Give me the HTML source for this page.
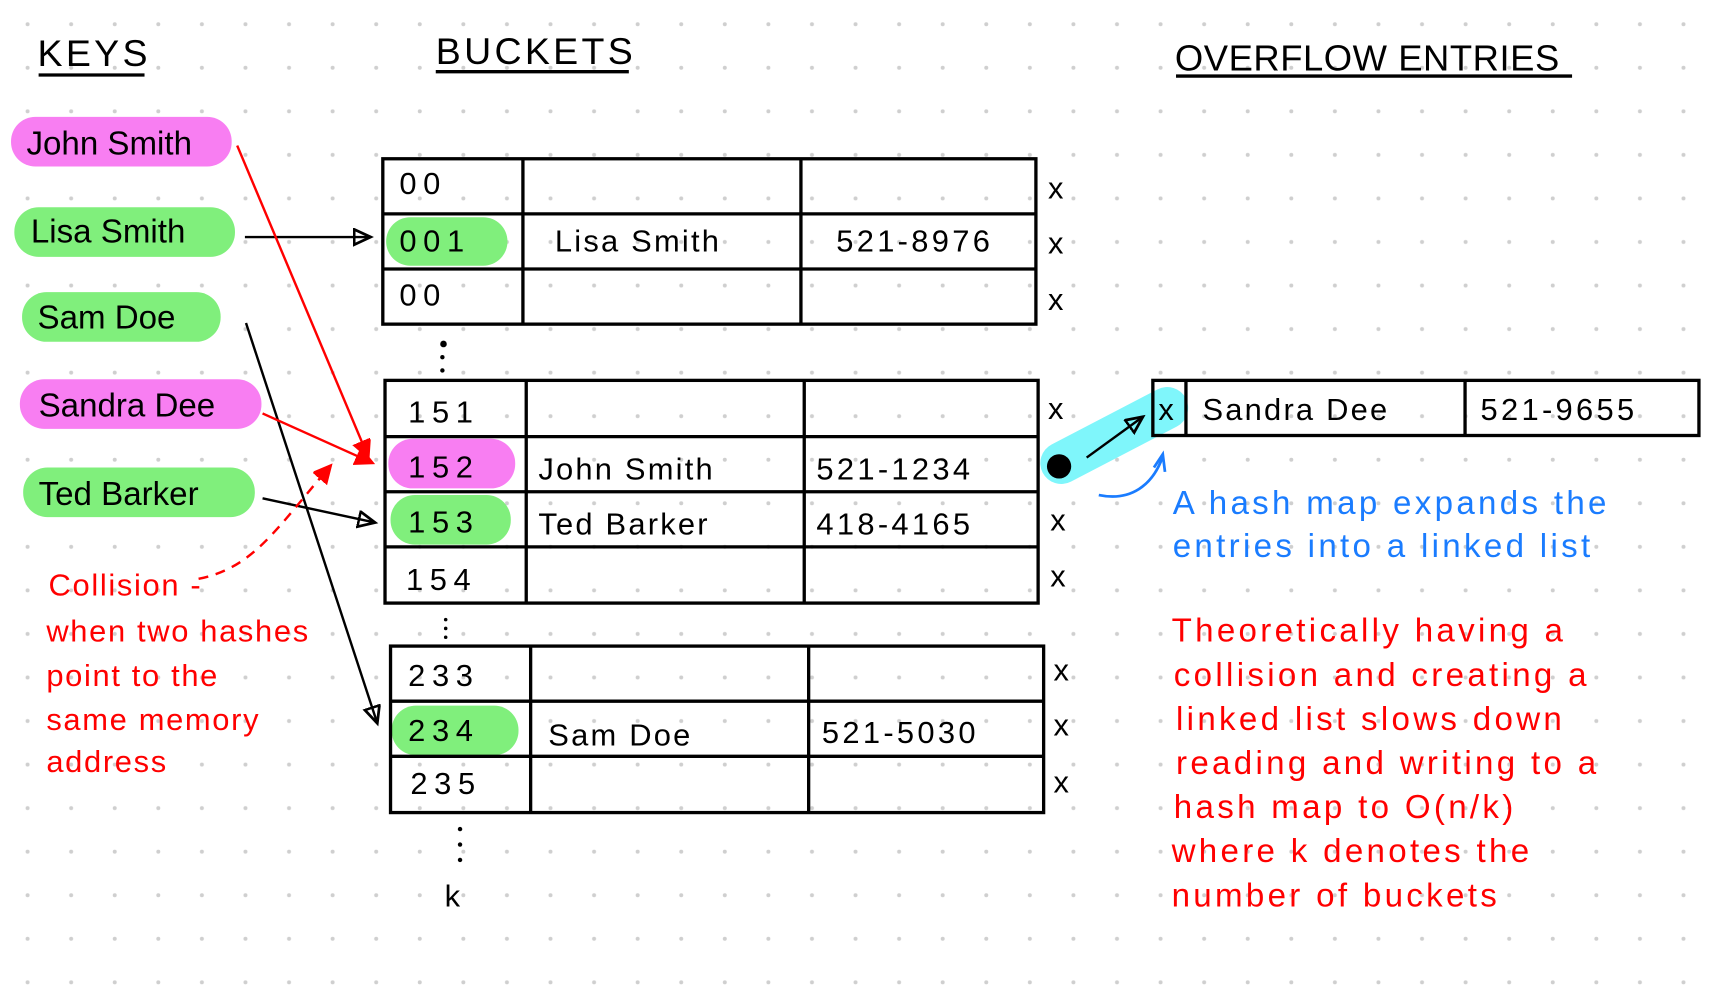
<!DOCTYPE html>
<html><head><meta charset="utf-8"><style>
html,body{margin:0;padding:0;background:#fff;width:1721px;height:1000px;overflow:hidden}
svg{display:block}
text{font-family:"Liberation Sans",sans-serif}
</style></head><body>
<svg width="1721" height="1000" viewBox="0 0 1560 907" preserveAspectRatio="none" xmlns="http://www.w3.org/2000/svg">
<defs>
<pattern id="dots" x="5" y="2" width="39.5" height="39.5" patternUnits="userSpaceOnUse"><circle cx="20" cy="20" r="1.8" fill="#cfcfcf"/></pattern>
<marker id="ab" markerWidth="20" markerHeight="20" refX="16" refY="8" orient="auto" markerUnits="userSpaceOnUse"><path d="M1,1 L16,8 L1,15 Z" fill="none" stroke="#000" stroke-width="2.5"/></marker>
<marker id="ar" markerWidth="20" markerHeight="20" refX="16" refY="8" orient="auto" markerUnits="userSpaceOnUse"><path d="M0,0 L16,8 L0,16 Z" fill="#f00" stroke="#f00" stroke-width="2"/></marker>
</defs>
<rect width="1560" height="907" fill="url(#dots)"/>
<g font-size="34" fill="#000" letter-spacing="3">
<text x="34" y="60">KEYS</text><text x="395" y="58">BUCKETS</text><text x="1065" y="64" letter-spacing="0.5" font-size="33">OVERFLOW  ENTRIES</text></g>
<g stroke="#000" stroke-width="3"><line x1="35" y1="68" x2="131" y2="68"/><line x1="395" y1="65" x2="570" y2="65"/><line x1="1066" y1="69" x2="1425" y2="69"/></g>
<g font-size="30">
<rect x="10" y="106" width="200" height="45" rx="22" fill="#f87ef2"/><text x="24" y="140">John Smith</text>
<rect x="13" y="188" width="200" height="45" rx="22" fill="#80ef7c"/><text x="28" y="220">Lisa Smith</text>
<rect x="20" y="265" width="180" height="45" rx="22" fill="#80ef7c"/><text x="34" y="298">Sam Doe</text>
<rect x="18" y="344" width="219" height="45" rx="22" fill="#f87ef2"/><text x="35" y="378">Sandra Dee</text>
<rect x="21" y="424" width="210" height="45" rx="22" fill="#80ef7c"/><text x="35" y="458">Ted Barker</text>
</g>
<rect x="350" y="197" width="110" height="44" rx="22" fill="#80ef7c"/>
<rect x="352" y="398" width="115" height="45" rx="22" fill="#f87ef2"/>
<rect x="354" y="449" width="109" height="45" rx="22" fill="#80ef7c"/>
<rect x="355" y="640" width="115" height="45" rx="22" fill="#80ef7c"/>
<line x1="962" y1="420" x2="1058" y2="370" stroke="#7ff6fb" stroke-width="38" stroke-linecap="round"/>
<g fill="none" stroke="#000" stroke-width="3">
<rect x="347" y="144" width="592" height="150"/><line x1="347" y1="194" x2="939" y2="194"/><line x1="347" y1="244" x2="939" y2="244"/><line x1="474" y1="144" x2="474" y2="294"/><line x1="726" y1="144" x2="726" y2="294"/>
<rect x="349" y="345" width="592" height="202"/><line x1="349" y1="396" x2="941" y2="396"/><line x1="349" y1="446" x2="941" y2="446"/><line x1="349" y1="496" x2="941" y2="496"/><line x1="477" y1="345" x2="477" y2="547"/><line x1="729" y1="345" x2="729" y2="547"/>
<rect x="354" y="586" width="592" height="151"/><line x1="354" y1="636" x2="946" y2="636"/><line x1="354" y1="686" x2="946" y2="686"/><line x1="481" y1="586" x2="481" y2="737"/><line x1="733" y1="586" x2="733" y2="737"/>
<rect x="1045" y="345" width="495" height="50"/><line x1="1075" y1="345" x2="1075" y2="395"/><line x1="1328" y1="345" x2="1328" y2="395"/>
</g>
<g font-size="28" letter-spacing="6">
<text x="362" y="176">00</text><text x="362" y="228">001</text><text x="362" y="277">00</text>
<text x="503" y="228" letter-spacing="2">Lisa Smith</text><text x="758" y="228" letter-spacing="3">521-8976</text>
<text x="370" y="383">151</text><text x="370" y="433">152</text><text x="370" y="483">153</text><text x="368" y="535">154</text>
<text x="488" y="435" letter-spacing="2">John Smith</text><text x="740" y="435" letter-spacing="3">521-1234</text>
<text x="488" y="485" letter-spacing="2">Ted  Barker</text><text x="740" y="485" letter-spacing="3">418-4165</text>
<text x="370" y="622">233</text><text x="370" y="672">234</text><text x="372" y="720">235</text>
<text x="497" y="676" letter-spacing="2">Sam Doe</text><text x="745" y="674" letter-spacing="3">521-5030</text>
<text x="1090" y="381" letter-spacing="2">Sandra Dee</text><text x="1342" y="381" letter-spacing="3">521-9655</text>
</g>
<g font-size="28">
<text x="950" y="180">x</text><text x="950" y="230">x</text><text x="950" y="281">x</text>
<text x="950" y="380">x</text><text x="952" y="481">x</text><text x="952" y="532">x</text>
<text x="955" y="617">x</text><text x="955" y="667">x</text><text x="955" y="719">x</text>
<text x="1050" y="381">x</text>
<text x="403" y="822">k</text>
</g>
<g fill="#000"><circle cx="402" cy="312" r="3"/><circle cx="401" cy="324" r="2"/><circle cx="401" cy="336" r="2"/>
<circle cx="404" cy="562" r="1.6"/><circle cx="404" cy="570" r="1.6"/><circle cx="404" cy="578" r="1.6"/>
<circle cx="417" cy="752" r="2"/><circle cx="417" cy="766" r="2"/><circle cx="417" cy="780" r="2"/>
<circle cx="960" cy="423" r="11"/></g>
<g fill="none" stroke="#000" stroke-width="2.2">
<line x1="222" y1="215" x2="336" y2="215" marker-end="url(#ab)"/>
<line x1="238" y1="452" x2="340" y2="474" marker-end="url(#ab)"/>
<line x1="223" y1="293" x2="342" y2="656" marker-end="url(#ab)"/>
<line x1="985" y1="415" x2="1036" y2="378" marker-end="url(#ab)"/>
</g>
<g fill="none" stroke="#f00" stroke-width="2.2">
<line x1="215" y1="132" x2="334" y2="415" marker-end="url(#ar)"/>
<line x1="238" y1="375" x2="338" y2="420" marker-end="url(#ar)"/>
<path d="M180 525 C230 515 250 480 300 422" stroke-dasharray="9 7" marker-end="url(#ar)"/>
</g>
<path d="M996 449 C1025 455 1045 440 1054 414" fill="none" stroke="#1a7cff" stroke-width="2.5"/>
<path d="M1046 424 L1054 412 L1056 428" fill="none" stroke="#1a7cff" stroke-width="2.5"/>
<g font-size="28" fill="#f00" letter-spacing="1.5">
<text x="44" y="540">Collision -</text>
<text x="42" y="582">when two hashes</text><text x="42" y="622">point to the</text>
<text x="42" y="662">same memory</text><text x="42" y="700">address</text>
</g>
<g font-size="30" fill="#1a7cff" letter-spacing="3"><text x="1063" y="466">A  hash map  expands  the</text><text x="1063" y="505">entries  into a  linked  list</text></g>
<g font-size="30" fill="#f00" letter-spacing="3">
<text x="1062" y="582">Theoretically  having  a</text>
<text x="1064" y="622">collision  and  creating  a</text>
<text x="1066" y="662">linked  list  slows  down</text>
<text x="1066" y="702">reading  and  writing  to  a</text>
<text x="1064" y="742">hash  map  to  O(n/k)</text>
<text x="1062" y="782">where  k  denotes  the</text>
<text x="1062" y="822">number  of  buckets</text>
</g>
</svg>
</body></html>
